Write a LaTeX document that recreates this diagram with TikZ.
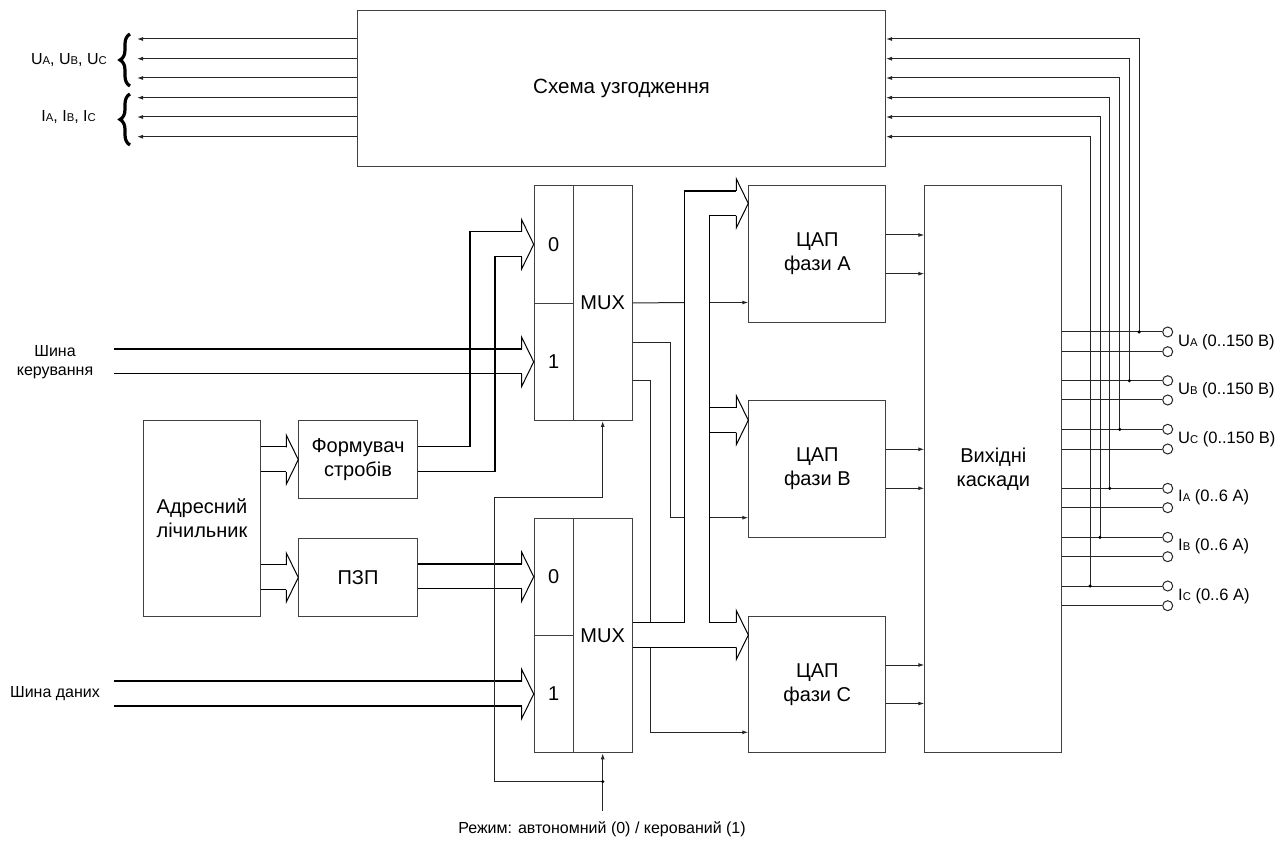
\documentclass[tikz,border=0pt]{standalone}
\usepackage{fontspec}
\setmainfont{Liberation Sans}
\usetikzlibrary{arrows.meta,decorations.pathreplacing}
\newcommand\sbx[1]{{\fontsize{11.3}{12}\selectfont #1}}
\newcommand\bushead[1]{\draw[headst] (#1) ++(-12,-12.4) -- ++(0,-12.1) -- (#1) -- ++(-12,24.5) -- ++(0,-12.1);}
\begin{document}
\begin{tikzpicture}[x=1pt,y=-1pt,
  box/.style={draw=black!75, line width=1pt, inner sep=0pt, anchor=north west, align=center, font=\fontsize{20}{24}\selectfont},
  sig/.style={draw=black!85, line width=1pt},
  arr/.style={sig, -{Latex[length=6pt,width=4pt]}},
  busl/.style={draw=black, line width=1.4pt},
  headst/.style={draw=black, line width=1pt, line join=miter},
  dot/.style={circle, fill=black, inner sep=0pt, minimum size=3.5pt},
  term/.style={circle, draw=black!85, line width=1pt, inner sep=0pt, minimum size=10pt, fill=white},
  lbl/.style={font=\fontsize{16}{19.5}\selectfont, inner sep=0pt, align=center},
  bracest/.style={line width=3.2pt, decorate, decoration={brace, amplitude=10pt}},
]
\useasboundingbox (0,0) rectangle (1286,842);

% boxes
\node[box, minimum width=528, minimum height=156] (match) at (357,10) {};
\node[font=\fontsize{20.6}{24}\selectfont] (matchtxt) at (match.center) {Схема узгодження};
\node[box, minimum width=39, minimum height=117.7] (m1s0) at (533.7,185) {0};
\node[box, minimum width=39, minimum height=117.3] (m1s1) at (533.7,302.7) {1};
\node[box, minimum width=59, minimum height=235] (m1) at (572.7,185) {MUX};
\node[box, minimum width=39, minimum height=117] (m2s0) at (533.7,517.7) {0};
\node[box, minimum width=39, minimum height=117.6] (m2s1) at (533.7,634.7) {1};
\node[box, minimum width=59, minimum height=234.6] (m2) at (572.7,517.7) {MUX};
\node[box, minimum width=117.6, minimum height=195.4] (cnt) at (142.7,420.3) {Адресний\\лічильник};
\node[box, minimum width=118.4, minimum height=78.3] (strob) at (298.3,420) {Формувач\\стробів};
\node[box, minimum width=118.4, minimum height=77.4] (rom) at (298.3,538.3) {ПЗП};
\node[box, minimum width=137, minimum height=137.3] (dacA) at (748.3,185) {ЦАП\\фази A};
\node[box, minimum width=137, minimum height=137.3] (dacB) at (748.3,400) {ЦАП\\фази B};
\node[box, minimum width=137, minimum height=136.3] (dacC) at (748.3,615.7) {ЦАП\\фази C};
\node[box, minimum width=137, minimum height=567.3] (outb) at (924.3,185) {Вихідні\\каскади};

% left outputs of matching circuit
\foreach \y in {39,58.7,78,97.7,117,136.7}
  \draw[arr] (match.west |- 0,\y) -- (137,\y);
\draw[bracest] (130,86) -- (130,34);
\draw[bracest] (130,145) -- (130,94);
\node[lbl, anchor=east] (lu) at (107,60) {U\sbx{A}, U\sbx{B}, U\sbx{C}};
\node[lbl, anchor=east] (li) at (96,117.5) {I\sbx{A}, I\sbx{B}, I\sbx{C}};

% output terminals
\foreach \y [count=\i] in {332,351.7,380.7,400,429.3,449,488.3,507.7,537.3,556.7,586,605.7} {
  \node[term] (t\i) at (1167.7,\y) {};
  \draw[sig] (outb.east |- t\i) -- (t\i);
}
% feedback to matching circuit
\foreach \x/\y/\t in {1139/39/1,1129.3/58.7/3,1119.7/78/5,1109.7/97.7/7,1100/117/9,1090/136.7/11} {
  \draw[arr] (\x,0 |- t\t) -- (\x,\y) -- (match.east |- 0,\y);
  \node[dot] at (\x,0 |- t\t) {};
}
\node[lbl, anchor=west, font=\fontsize{16.5}{19.5}\selectfont] at (1178,342) {U\sbx{A} (0..150 В)};
\node[lbl, anchor=west, font=\fontsize{16.5}{19.5}\selectfont] at (1178,390.5) {U\sbx{B} (0..150 В)};
\node[lbl, anchor=west, font=\fontsize{16.5}{19.5}\selectfont] at (1178,439) {U\sbx{C} (0..150 В)};
\node[lbl, anchor=west, font=\fontsize{16.5}{19.5}\selectfont] at (1178,497.5) {I\sbx{A} (0..6 A)};
\node[lbl, anchor=west, font=\fontsize{16.5}{19.5}\selectfont] at (1178,546.5) {I\sbx{B} (0..6 A)};
\node[lbl, anchor=west, font=\fontsize{16.5}{19.5}\selectfont] at (1178,596) {I\sbx{C} (0..6 A)};

% DAC outputs
\foreach \d/\a/\b in {dacA/235/273.7,dacB/449.3/488.3,dacC/665/703.5} {
  \draw[arr] (\d.east |- 0,\a) -- (outb.west |- 0,\a);
  \draw[arr] (\d.east |- 0,\b) -- (outb.west |- 0,\b);
}

% MUX1 control outputs to DACs
\draw[sig] (m1.east) -- (684.3,302.5);
\draw[arr] (709.3,302.5) -- (dacA.west |- 0,302.5);
\draw[sig] (m1.east |- 0,342.3) -- (670.7,342.3) -- (670.7,517.7) -- (684.3,517.7);
\draw[arr] (709.3,517.7) -- (dacB.west |- 0,517.7);
\draw[sig] (m1.east |- 0,381) -- (650.7,381) -- (650.7,622.6);
\draw[arr] (650.7,647.4) -- (650.7,732.3) -- (dacC.west |- 0,732.3);

% data bus from MUX2 to DACs
\coordinate (tipA) at (dacA.west |- 0,203.4);
\coordinate (tipB) at (dacB.west |- 0,420.2);
\coordinate (tipC) at (dacC.west |- 0,635);
\draw[busl] (m2.east |- 0,622.6) -- (684.3,622.6) -- (684.3,191) -- (736.3,191);
\draw[busl] (736.3,215.8) -- (709.3,215.8) -- (709.3,622.6) -- (736.3,622.6);
\draw[busl] (709.3,407.8) -- (736.3,407.8);
\draw[busl] (709.3,432.6) -- (736.3,432.6);
\draw[busl] (m2.east |- 0,647.4) -- (736.3,647.4);
\bushead{tipA}
\bushead{tipB}
\bushead{tipC}

% strobe former to MUX1 input 0
\draw[busl] (strob.east |- 0,446.75) -- (470,446.75) -- (470,231.45) -- (521.7,231.45);
\draw[busl] (strob.east |- 0,471.55) -- (495,471.55) -- (495,256.25) -- (521.7,256.25);
\bushead{m1s0.west}
% control bus to MUX1 input 1
\draw[busl] (114,348.95) -- (521.7,348.95);
\draw[busl] (114,373.75) -- (521.7,373.75);
\bushead{m1s1.west}
\node[lbl] (lbk) at (55,362) {Шина\\керування};
% counter to strobe former and ROM
\draw[busl] (cnt.east |- 0,446.75) -- (286.3,446.75);
\draw[busl] (cnt.east |- 0,471.55) -- (286.3,471.55);
\bushead{strob.west}
\draw[busl] (cnt.east |- 0,564.6) -- (286.3,564.6);
\draw[busl] (cnt.east |- 0,589.4) -- (286.3,589.4);
\bushead{rom.west}
% ROM to MUX2 input 0
\draw[busl] (rom.east |- 0,563.8) -- (521.7,563.8);
\draw[busl] (rom.east |- 0,588.6) -- (521.7,588.6);
\bushead{m2s0.west}
% data bus to MUX2 input 1
\draw[busl] (114,681.1) -- (521.7,681.1);
\draw[busl] (114,705.9) -- (521.7,705.9);
\bushead{m2s1.west}
\node[lbl] (lbd) at (55,694) {Шина даних};

% mode control
\coordinate (mode) at (m2.south |- 0,811);
\draw[arr] (mode) -- (m2.south);
\draw[sig] (m2.south |- 0,781.7) -- (494.3,781.7) -- (494.3,497.7) -- (m1.south |- 0,497.7);
\draw[arr] (m1.south |- 0,497.7) -- (m1.south);
\node[dot] at (m2.south |- 0,781.7) {};
\node[lbl] (lmode) at (602,829.5) {Режим: автономний (0) / керований (1)};
\end{tikzpicture}
\end{document}
